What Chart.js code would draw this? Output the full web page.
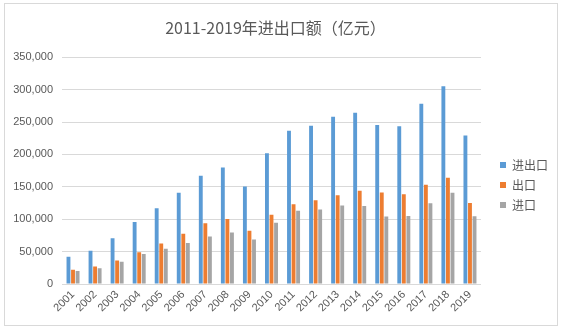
<!DOCTYPE html>
<html>
<head>
<meta charset="utf-8">
<script src="https://cdn.jsdelivr.net/npm/chart.js@4.4.1/dist/chart.umd.min.js"></script>
<style>
  html, body { margin: 0; padding: 0; background: #fff; }
  #wrap { width: 563px; height: 330px; position: relative; }
</style>
</head>
<body>
<div id="wrap"><canvas id="trade"></canvas></div>
<script>
// years and yearly totals, in 亿元
const years = ['2001', '2002', '2003', '2004', '2005', '2006', '2007', '2008', '2009', '2010',
  '2011', '2012', '2013', '2014', '2015', '2016', '2017', '2018', '2019'];
const totalTrade = [42184, 51378, 70484, 95539, 116922, 140975, 166924, 179922, 150648, 201722,
  236402, 244160, 258169, 264242, 245503, 243386, 278101, 305008, 229000];
const exportsVal = [22024, 26948, 36288, 49103, 62648, 77598, 93627, 100395, 82030, 107023,
  123241, 129359, 137131, 143884, 141167, 138419, 153309, 164129, 125000];
const importsVal = [20159, 24430, 34196, 46436, 54274, 63377, 73297, 79527, 68618, 94700,
  113161, 114801, 121038, 120358, 104336, 104967, 124792, 140880, 104500];
const yTicks = [0, 50000, 100000, 150000, 200000, 250000, 300000, 350000];

const textColor = '#595959';
const gridColor = '#d9d9d9';
const cjkFont = "'Noto Sans CJK SC', 'DejaVu Sans', sans-serif";
const numFont = "'Liberation Sans', 'DejaVu Sans', sans-serif";

// thin frame around the whole chart
const framePlugin = {
  id: 'frame',
  beforeDraw(chart) {
    const ctx = chart.ctx;
    ctx.save();
    ctx.fillStyle = '#fff';
    ctx.fillRect(0, 0, chart.width, chart.height);
    ctx.strokeStyle = gridColor;
    ctx.lineWidth = 1;
    ctx.strokeRect(4.5, 3.5, 553, 322);
    ctx.restore();
  }
};

// nudge the legend block a bit right and down from where the layout puts it
const legendNudge = {
  id: 'legendNudge',
  afterLayout(chart) {
    const lg = chart.legend;
    if (!lg) return;
    lg.left += 11; lg.right += 11;
    lg.top += 14; lg.bottom += 14;
  }
};

new Chart(document.getElementById('trade'), {
  type: 'bar',
  data: {
    labels: years,
    datasets: [
      { label: '进出口', data: totalTrade, backgroundColor: '#5B9BD5' },
      { label: '出口', data: exportsVal, backgroundColor: '#ED7D31' },
      { label: '进口', data: importsVal, backgroundColor: '#A5A5A5' }
    ]
  },
  options: {
    responsive: true,
    maintainAspectRatio: false,
    animation: false,
    datasets: { bar: { categoryPercentage: 0.62, barPercentage: 0.85 } },
    layout: { padding: { left: 4, right: 16, top: 18, bottom: 6 } },
    plugins: {
      title: {
        display: true,
        text: '2011-2019年进出口额（亿元）',
        color: textColor,
        font: { family: cjkFont, size: 16, weight: 'normal' },
        padding: { top: 0, bottom: 20 }
      },
      legend: {
        position: 'right',
        align: 'center',
        labels: {
          color: textColor,
          font: { family: cjkFont, size: 12 },
          boxWidth: 6,
          boxHeight: 6,
          padding: 8
        }
      },
      tooltip: { enabled: false }
    },
    scales: {
      x: {
        grid: { display: false, drawTicks: false },
        border: { color: gridColor },
        ticks: {
          color: textColor,
          font: { family: numFont, size: 11 },
          minRotation: 45,
          maxRotation: 45,
          autoSkip: false,
          padding: 4
        },
        afterFit(scale) { scale.height = 40; }
      },
      y: {
        min: 0,
        max: 350000,
        grid: { color: gridColor, drawTicks: false },
        border: { display: false },
        afterBuildTicks(scale) { scale.ticks = yTicks.map(v => ({ value: v })); },
        ticks: {
          color: textColor,
          font: { family: numFont, size: 11 },
          padding: 9,
          callback: v => v.toLocaleString('en-US')
        },
        afterFit(scale) { scale.width = 58; }
      }
    }
  },
  plugins: [framePlugin, legendNudge]
});
</script>
</body>
</html>
